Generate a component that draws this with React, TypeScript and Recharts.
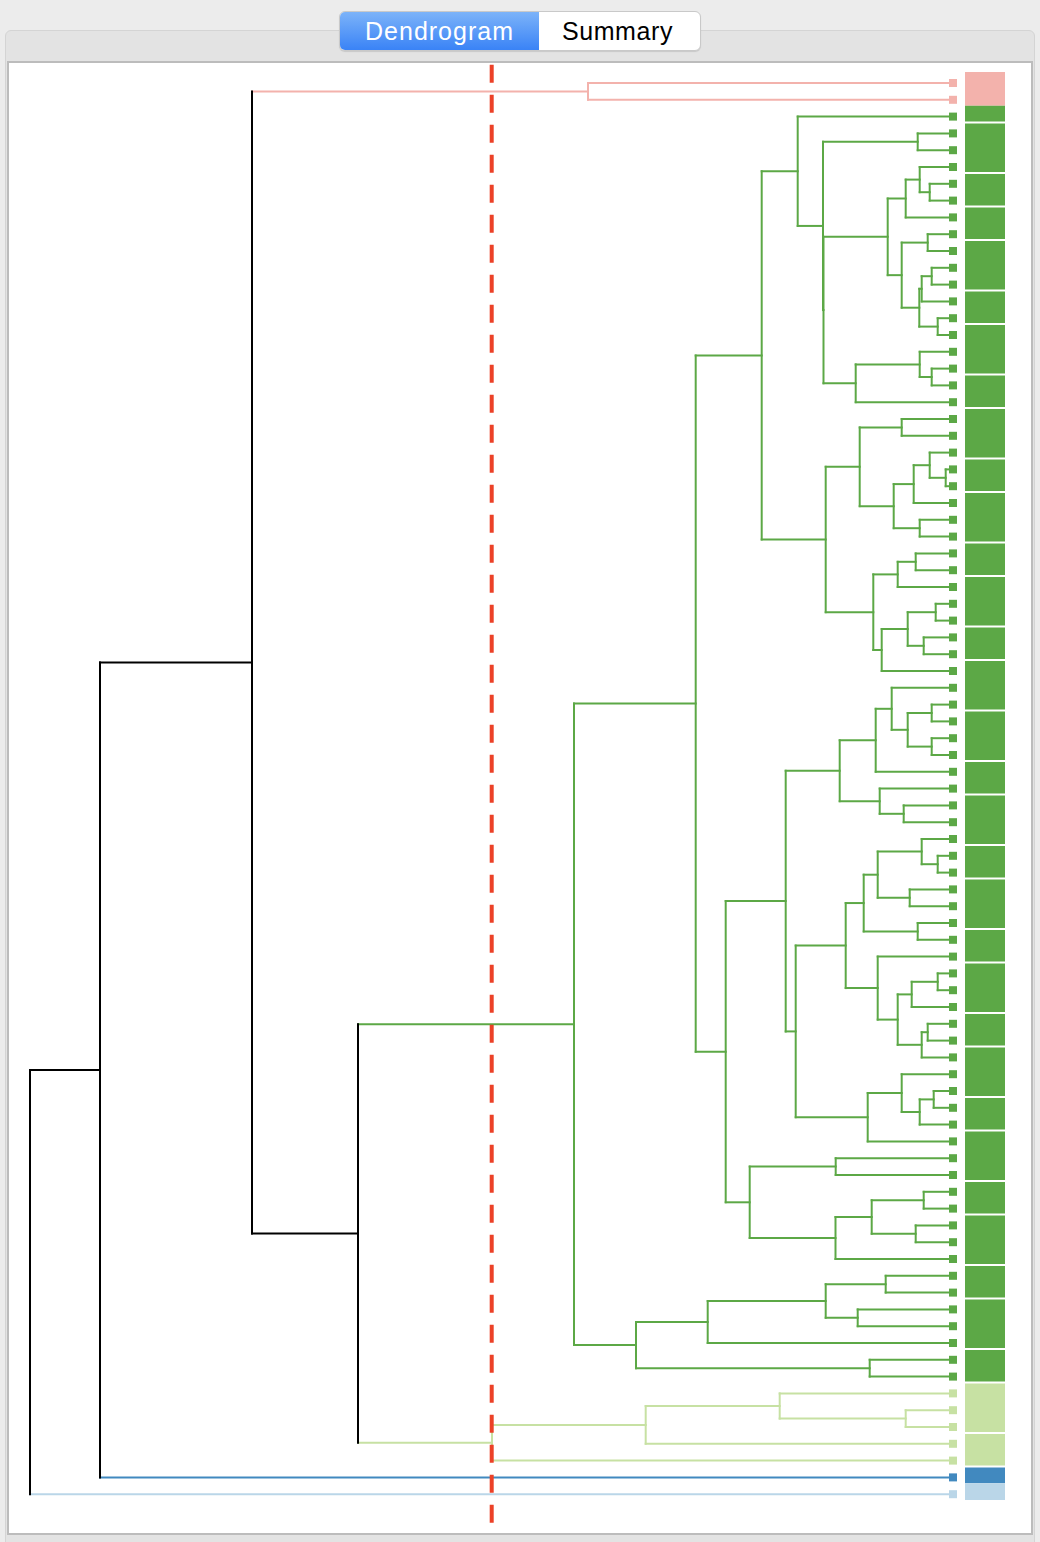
import { ComposedChart, XAxis, YAxis, Scatter, ReferenceLine, ReferenceArea } from 'recharts';

// clusters in leaf order (top to bottom)
const clusterSizes = [2, 76, 5, 1, 1];
const clusterColors = ['#f3b2ac', '#5ca846', '#c7e1a3', '#4189bf', '#bad6e8'];
const linkColor = '#000000';
const cutHeight = 461.3;

// [node, child A, child B, merge height]; numbers are leaf positions, strings earlier nodes
const merges: [string, number | string, number | string, number][] = [
  ['p0', 0, 1, 365],
  ['n3', 3, 4, 35.3],
  ['n6', 6, 7, 23.3],
  ['n5', 5, 'n6', 33.3],
  ['s1', 'n5', 8, 47.3],
  ['n9', 9, 10, 25.3],
  ['n11', 11, 12, 21.3],
  ['p13', 'n11', 13, 31.3],
  ['n14', 14, 15, 15.3],
  ['q', 'p13', 'n14', 33.7],
  ['r', 'n9', 'q', 51.3],
  ['s', 's1', 'r', 65.3],
  ['n17', 17, 18, 21.3],
  ['n16', 16, 'n17', 33.3],
  ['c', 'n16', 19, 97.3],
  ['b1', 's', 'c', 129.5],
  ['b2', 'n3', 'b1', 130],
  ['a', 2, 'b2', 155.3],
  ['n20', 20, 21, 51.3],
  ['n23', 23, 24, 7.3],
  ['k', 22, 'n23', 23.3],
  ['j', 'k', 25, 39.3],
  ['n26', 26, 27, 33.3],
  ['i', 'j', 'n26', 59.3],
  ['g', 'n20', 'i', 93.3],
  ['n28', 28, 29, 37.3],
  ['l', 'n28', 30, 55.3],
  ['n31', 31, 32, 17.3],
  ['n33', 33, 34, 29.3],
  ['nn', 'n31', 'n33', 45.3],
  ['m', 'nn', 35, 71.3],
  ['h', 'l', 'm', 79.7],
  ['f', 'g', 'h', 127.3],
  ['e', 'a', 'f', 191.3],
  ['n37', 37, 38, 21.3],
  ['n39', 39, 40, 21.3],
  ['ae', 'n37', 'n39', 45.3],
  ['ad', 36, 'ae', 61.3],
  ['ab', 'ad', 41, 77.3],
  ['n43', 43, 44, 49.3],
  ['ac', 42, 'n43', 73.3],
  ['x', 'ab', 'ac', 113.3],
  ['n46', 46, 47, 15.3],
  ['ai', 45, 'n46', 31.3],
  ['n48', 48, 49, 43.3],
  ['ah', 'ai', 'n48', 75.3],
  ['n50', 50, 51, 35.3],
  ['af', 'ah', 'n50', 89.3],
  ['n53', 53, 54, 15.3],
  ['ak', 'n53', 55, 41.3],
  ['n56', 56, 57, 25.3],
  ['al', 'n56', 58, 31.3],
  ['aj', 'ak', 'al', 55.3],
  ['ag', 52, 'aj', 75.3],
  ['z', 'af', 'ag', 107.3],
  ['n60', 60, 61, 19.3],
  ['an', 'n60', 62, 33.3],
  ['am', 59, 'an', 51.3],
  ['aa', 'am', 63, 85.3],
  ['y', 'z', 'aa', 157.3],
  ['v', 'x', 'y', 167.3],
  ['n64', 64, 65, 117.3],
  ['n66', 66, 67, 29.3],
  ['n68', 68, 69, 37.3],
  ['aq', 'n66', 'n68', 81.3],
  ['ap', 'aq', 70, 117.5],
  ['w', 'n64', 'ap', 203.3],
  ['u', 'v', 'w', 227.3],
  ['t', 'e', 'u', 257.3],
  ['n71', 71, 72, 67.3],
  ['n73', 73, 74, 95.3],
  ['bc', 'n71', 'n73', 127.3],
  ['bb', 'bc', 75, 245.3],
  ['n76', 76, 77, 83.3],
  ['ba', 'bb', 'n76', 317],
  ['t2', 't', 'ba', 379],
  ['n79', 79, 80, 47.3],
  ['bd', 78, 'n79', 173.3],
  ['be', 'bd', 81, 307.3],
  ['bf', 'be', 82, 461],
  ['t3', 't2', 'bf', 595],
  ['t4', 'p0', 't3', 701],
  ['t5', 't4', 83, 853],
  ['root', 't5', 84, 923],
];

// leaves after which the colour strip shows a white gap
const stripGaps = [2, 5, 7, 9, 12, 14, 17, 19, 22, 24, 27, 29, 32, 34, 37, 40, 42, 45, 47, 50, 52, 55, 57, 60, 62, 65, 67, 70, 72, 75, 77, 80, 82];

const leafCluster: number[] = [];
clusterSizes.forEach((n, ci) => { for (let k = 0; k < n; k++) leafCluster.push(ci); });
const colorOf = (c: number) => (c < 0 ? linkColor : clusterColors[c]);

type Seg = { x1: number; y1: number; x2: number; y2: number; c: number };
const segs: Seg[] = [];
const nodes: Record<string, { y: number; h: number; c: number }> = {};
const info = (k: number | string) =>
  typeof k === 'number' ? { y: k, h: 0, c: leafCluster[k] } : nodes[k];

merges.forEach(([name, a, b, h]) => {
  const ia = info(a), ib = info(b);
  const c = ia.c === ib.c ? ia.c : -1;
  nodes[name] = { y: (ia.y + ib.y) / 2, h, c };
  segs.push({ x1: ia.h, y1: ia.y, x2: h, y2: ia.y, c: ia.c });
  segs.push({ x1: ib.h, y1: ib.y, x2: h, y2: ib.y, c: ib.c });
  segs.push({ x1: h, y1: ia.y, x2: h, y2: ib.y, c });
});
// coloured links first, black on top
segs.sort((p, q) => (p.c < 0 ? 1 : 0) - (q.c < 0 ? 1 : 0));

// strip blocks: runs of leaves with one colour and no gap between them
const blocks: { from: number; to: number; c: number }[] = [];
leafCluster.forEach((c, i) => {
  const last = blocks[blocks.length - 1];
  if (last && last.c === c && !stripGaps.includes(i - 1)) last.to = i;
  else blocks.push({ from: i, to: i, c });
});

const leaves = leafCluster.map((c, i) => ({ h: 0, y: i, color: clusterColors[c] }));

const LeafMark = (p: any) => (
  <rect x={p.cx - 4} y={p.cy - 4} width={8} height={8} fill={p.payload.color} />
);

const font = '"Liberation Sans", Arial, Helvetica, sans-serif';

export default function App() {
  return (
    <div style={{ position: 'absolute', left: 0, top: 0, width: 1040, height: 1542, background: '#ececec', overflow: 'hidden', fontFamily: font }}>
      <div style={{ position: 'absolute', left: 5, top: 30, width: 1028, height: 1530, background: '#e3e3e3', border: '1px solid #d4d4d4', borderRadius: 6 }} />
      <div style={{ position: 'absolute', left: 7, top: 61, width: 1022, height: 1470, background: '#ffffff', border: '2px solid #bcbcbc' }} />

      <div style={{ position: 'absolute', left: 339, top: 11, width: 360, height: 38, borderRadius: 6, border: '1px solid #c9c9c9', background: '#ffffff', overflow: 'hidden', display: 'flex', boxShadow: '0 1px 1px rgba(0,0,0,0.12)' }}>
        <div style={{ width: 199, height: 38, background: 'linear-gradient(#7cb3f9, #3a83f6)', color: '#ffffff', fontSize: 25, display: 'flex', alignItems: 'center', justifyContent: 'center', letterSpacing: 1 }}>Dendrogram</div>
        <div style={{ flex: 1, height: 38, color: '#000000', fontSize: 25, display: 'flex', alignItems: 'center', justifyContent: 'center', letterSpacing: 0.6, paddingRight: 4 }}>Summary</div>
      </div>

      <ComposedChart
        width={1040}
        height={1542}
        margin={{ top: 62.84, right: 35, bottom: 19.24, left: 13 }}
        style={{ position: 'absolute', left: 0, top: 0 }}
      >
        <XAxis type="number" dataKey="h" domain={[-52, 940]} reversed hide allowDataOverflow />
        <YAxis type="number" dataKey="y" domain={[-1.2, 85.7]} reversed hide allowDataOverflow />

        {blocks.map((b, i) => (
          <ReferenceArea key={'blk' + i} x1={-12} x2={-52} y1={b.from - 0.65} y2={b.to + 0.35}
            fill={clusterColors[b.c]} fillOpacity={1} stroke="none" ifOverflow="visible" />
        ))}
        {stripGaps.map((k) => (
          <ReferenceLine key={'gap' + k} segment={[{ x: -12, y: k + 0.35 }, { x: -52, y: k + 0.35 }]}
            stroke="#ffffff" strokeWidth={2} ifOverflow="visible" />
        ))}

        {segs.map((s, i) => (
          <ReferenceLine key={'s' + i} segment={[{ x: s.x1, y: s.y1 }, { x: s.x2, y: s.y2 }]}
            stroke={colorOf(s.c)} strokeWidth={2} strokeLinecap="square" ifOverflow="visible" />
        ))}

        <ReferenceLine x={cutHeight} stroke="#ec4127" strokeWidth={4} strokeDasharray="18 12" ifOverflow="visible" />

        <Scatter data={leaves} dataKey="y" isAnimationActive={false} shape={LeafMark} />
      </ComposedChart>
    </div>
  );
}
